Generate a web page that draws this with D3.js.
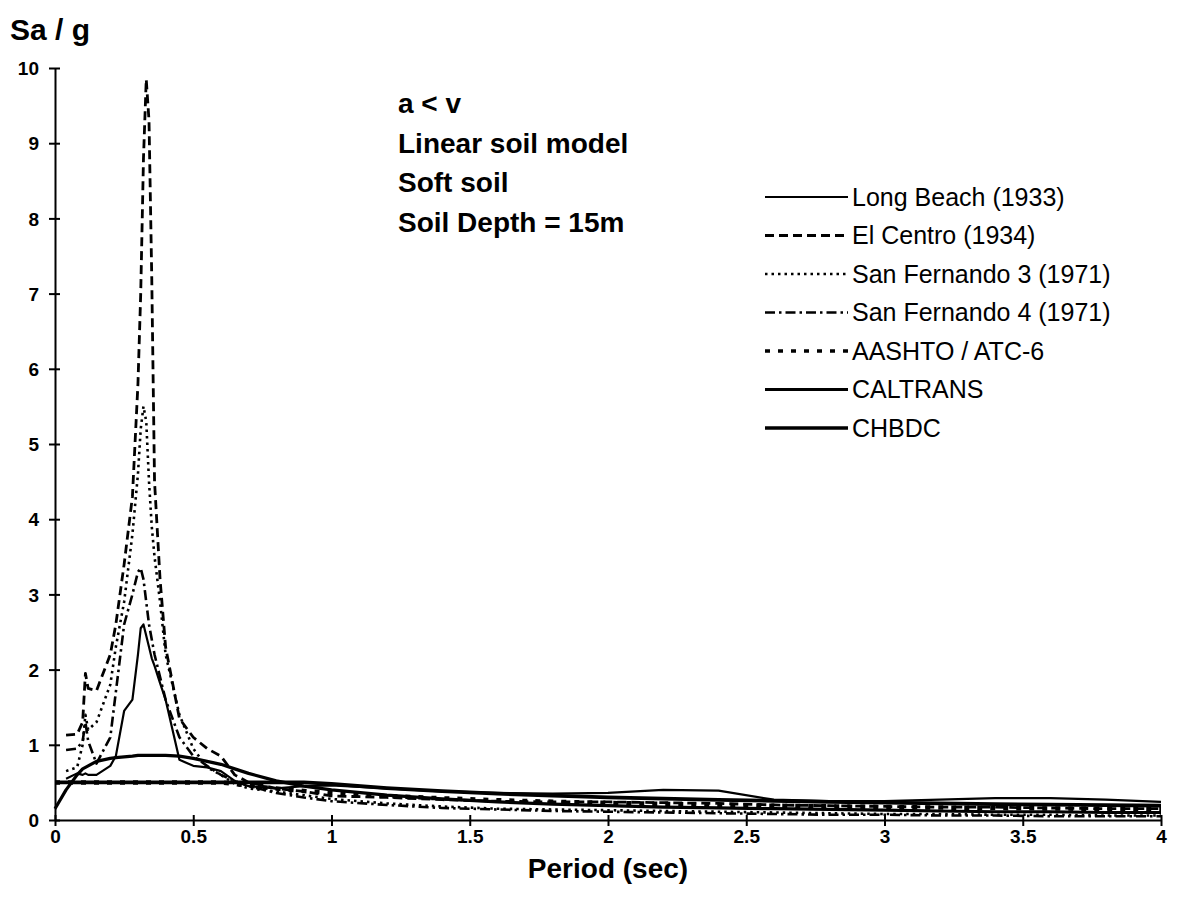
<!DOCTYPE html>
<html>
<head>
<meta charset="utf-8">
<script src="https://cdn.jsdelivr.net/npm/d3@7"></script>
<style>
  body { margin: 0; background: #fff; }
  text { font-family: Arial, "Liberation Sans", sans-serif; fill: #000; }
  .tick text { font-weight: bold; font-size: 19px; }
  .domain, .tick line { stroke: #000; stroke-width: 2px; }
</style>
</head>
<body>
<div id="chart-holder"></div>
<script>
// periods (sec) shared by all the series
var periods = [0, 0.04, 0.08, 0.1, 0.11, 0.12, 0.15, 0.2, 0.22, 0.25, 0.28, 0.3, 0.31, 0.32, 0.33, 0.34, 0.35, 0.36, 0.38, 0.4,
  0.45, 0.5, 0.55, 0.6, 0.65, 0.7, 0.8, 0.9, 1.0, 1.2, 1.4, 1.6, 1.8, 2.0, 2.2, 2.4, 2.6, 2.8, 3.0, 3.2, 3.4, 3.6, 3.8, 4.0];

// Sa/g values
var longBeach = [null, 0.55, 0.62, 0.6, 0.62, 0.6, 0.6, 0.72, 0.85, 1.45, 1.6, 2.2, 2.55, 2.6, 2.45, 2.3, 2.15, 2.05, 1.82, 1.6,
  0.8, 0.72, 0.7, 0.65, 0.52, 0.45, 0.42, 0.45, 0.46, 0.42, 0.38, 0.36, 0.35, 0.36, 0.4, 0.39, 0.27, 0.25, 0.25, 0.27, 0.29, 0.29, 0.27, 0.24];
var elCentro = [null, 1.13, 1.14, 1.3, 1.95, 1.75, 1.72, 2.2, 2.6, 3.4, 4.3, 5.8, 7.0, 8.8, 9.85, 9.3, 7.2, 4.5, 3.2, 2.3,
  1.35, 1.1, 0.95, 0.85, 0.6, 0.5, 0.42, 0.38, 0.32, 0.3, 0.27, 0.25, 0.24, 0.24, 0.23, 0.22, 0.2, 0.19, 0.18, 0.17, 0.17, 0.16, 0.15, 0.15];
var sanFernando3 = [null, 0.65, 0.7, 1.0, 1.4, 1.2, 1.3, 1.8, 2.3, 2.9, 3.8, 4.6, 5.2, 5.5, 5.3, 4.5, 3.9, 3.5, 2.9, 2.2,
  1.4, 0.95, 0.7, 0.6, 0.48, 0.42, 0.38, 0.33, 0.28, 0.22, 0.18, 0.15, 0.14, 0.13, 0.12, 0.11, 0.1, 0.09, 0.08, 0.08, 0.07, 0.07, 0.06, 0.06];
var sanFernando4 = [null, 0.93, 0.95, 1.05, 1.3, 1.05, 0.75, 1.1, 1.7, 2.6, 3.0, 3.3, 3.35, 3.2, 2.9, 2.6, 2.4, 2.2, 1.9, 1.6,
  1.1, 0.85, 0.72, 0.6, 0.52, 0.45, 0.36, 0.3, 0.25, 0.2, 0.16, 0.14, 0.12, 0.11, 0.1, 0.09, 0.08, 0.07, 0.07, 0.06, 0.06, 0.05, 0.05, 0.05];
var aashto = [0.5, 0.5, 0.5, 0.5, 0.5, 0.5, 0.5, 0.5, 0.5, 0.5, 0.5, 0.5, 0.5, 0.5, 0.5, 0.5, 0.5, 0.5, 0.5, 0.5,
  0.5, 0.5, 0.5, 0.5, 0.48, 0.457, 0.418, 0.386, 0.36, 0.319, 0.288, 0.263, 0.243, 0.227, 0.213, 0.201, 0.19, 0.181, 0.173, 0.166, 0.159, 0.153, 0.148, 0.143];
var caltrans = [0.15, 0.4, 0.6, 0.68, 0.7, 0.72, 0.78, 0.82, 0.83, 0.84, 0.85, 0.86, 0.86, 0.86, 0.86, 0.86, 0.86, 0.86, 0.86, 0.86,
  0.85, 0.82, 0.78, 0.74, 0.68, 0.62, 0.52, 0.45, 0.4, 0.33, 0.28, 0.24, 0.21, 0.19, 0.17, 0.16, 0.15, 0.14, 0.13, 0.12, 0.11, 0.11, 0.1, 0.1];
var chbdc = [0.5, 0.5, 0.5, 0.5, 0.5, 0.5, 0.5, 0.5, 0.5, 0.5, 0.5, 0.5, 0.5, 0.5, 0.5, 0.5, 0.5, 0.5, 0.5, 0.5,
  0.5, 0.5, 0.5, 0.5, 0.5, 0.5, 0.5, 0.5, 0.48, 0.425, 0.384, 0.351, 0.324, 0.302, 0.284, 0.268, 0.254, 0.242, 0.231, 0.221, 0.212, 0.204, 0.197, 0.19];

var seriesNames = ["Long Beach (1933)", "El Centro (1934)", "San Fernando 3 (1971)", "San Fernando 4 (1971)",
  "AASHTO / ATC-6", "CALTRANS", "CHBDC"];
var seriesValues = [longBeach, elCentro, sanFernando3, sanFernando4, aashto, caltrans, chbdc];

var xTicks = [0, 0.5, 1, 1.5, 2, 2.5, 3, 3.5, 4];
var yTicks = [0, 1, 2, 3, 4, 5, 6, 7, 8, 9, 10];
var notes = ["a < v", "Linear soil model", "Soft soil", "Soil Depth = 15m"];

// line look for each series (same order as seriesNames)
var styles = [
  { width: 2.2, dash: null },
  { width: 2.8, dash: "9,5" },
  { width: 2.6, dash: "2.5,4" },
  { width: 2.6, dash: "10,4,2.5,4" },
  { width: 4.5, dash: "5,8" },
  { width: 3.2, dash: null },
  { width: 3.8, dash: null }
];

var svg = d3.select("#chart-holder")
  .append("svg")
  .attr('width', 1179)
  .attr('height', 911);

var x = d3.scaleLinear().domain([0, 4]).range([55, 1161]);
var y = d3.scaleLinear().domain([0, 10]).range([820, 68]);

// axes with ticks crossing the axis line
var xAxis = svg.append("g")
  .attr('transform', 'translate(0,' + y(0) + ')')
  .call(d3.axisBottom(x).tickValues(xTicks).tickFormat(d3.format("")).tickSizeInner(6).tickSizeOuter(0).tickPadding(4));
xAxis.selectAll(".tick line").attr('y1', -5);

var yAxis = svg.append("g")
  .attr('transform', 'translate(' + x(0) + ',0)')
  .call(d3.axisLeft(y).tickValues(yTicks).tickSizeInner(6).tickSizeOuter(0).tickPadding(10));
yAxis.selectAll(".tick line").attr('x1', 5);
yAxis.selectAll(".tick text").attr('dy', '0.35em');

// data lines
var line = d3.line()
  .defined(function(d) { return d[1] !== null; })
  .x(function(d) { return x(d[0]); })
  .y(function(d) { return y(d[1]); })
  .curve(d3.curveLinear);

svg.selectAll("path.series")
  .data(seriesValues)
  .enter()
  .append("path")
  .attr('class', 'series')
  .attr('fill', 'none')
  .attr('stroke', '#000')
  .attr('stroke-linejoin', 'round')
  .attr('stroke-width', function(d, i) { return styles[i].width; })
  .attr('stroke-dasharray', function(d, i) { return styles[i].dash; })
  .attr('d', function(vals) {
    return line(periods.map(function(p, j) { return [p, vals[j]]; }));
  });

// axis titles
svg.append("text")
  .attr('x', 10)
  .attr('y', 40)
  .attr('font-size', 30)
  .attr('font-weight', 'bold')
  .text("Sa / g");

svg.append("text")
  .attr('x', 608)
  .attr('y', 878)
  .attr('text-anchor', 'middle')
  .attr('font-size', 28)
  .attr('font-weight', 'bold')
  .text("Period (sec)");

// annotation block
svg.selectAll("text.note")
  .data(notes)
  .enter()
  .append("text")
  .attr('class', 'note')
  .attr('x', 398)
  .attr('y', function(d, i) { return 113 + i * 39.5; })
  .attr('font-size', 28)
  .attr('font-weight', 'bold')
  .text(function(d) { return d; });

// legend
var legendTop = 197;
var legendStep = 38.5;
var legend = svg.selectAll("g.legend")
  .data(seriesNames)
  .enter()
  .append("g")
  .attr('class', 'legend')
  .attr('transform', function(d, i) { return 'translate(0,' + (legendTop + i * legendStep) + ')'; });

legend.append("line")
  .attr('x1', 765)
  .attr('x2', 848)
  .attr('stroke', '#000')
  .attr('stroke-width', function(d, i) { return Math.min(styles[i].width, 3.5); })
  .attr('stroke-dasharray', function(d, i) { return styles[i].dash; });

legend.append("text")
  .attr('x', 852)
  .attr('dy', '0.35em')
  .attr('font-size', 25)
  .text(function(d) { return d; });
</script>
</body>
</html>
